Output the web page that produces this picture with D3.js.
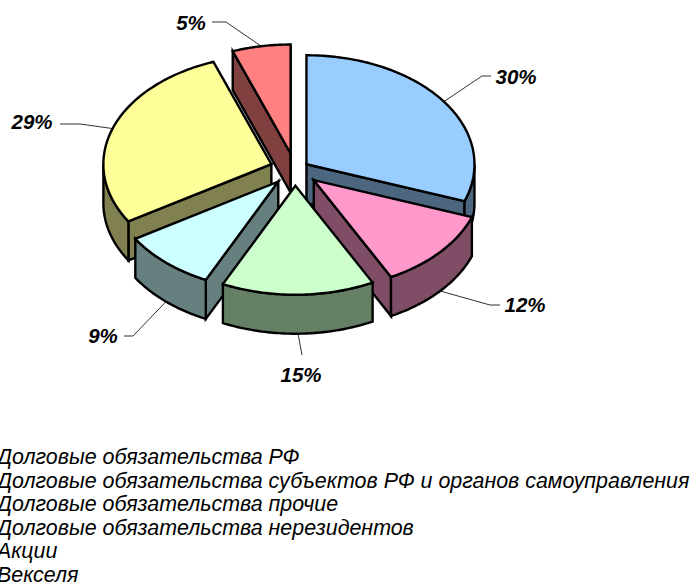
<!DOCTYPE html>
<html>
<head>
<meta charset="utf-8">
<script src="https://cdn.jsdelivr.net/npm/d3@7"></script>
<style>
  html, body { margin: 0; padding: 0; background: #fff; overflow: hidden; }
  text { font-family: "Liberation Sans", Arial, sans-serif; font-style: italic; fill: #000; }
</style>
</head>
<body>
<svg id="chart" width="690" height="583"></svg>
<script>
const categories = [
  "Долговые обязательства РФ",
  "Долговые обязательства субъектов РФ и органов самоуправления",
  "Долговые обязательства прочие",
  "Долговые обязательства нерезидентов",
  "Акции",
  "Векселя"
];
const shares = [30.5, 11.9, 14.7, 9.1, 28.2, 5.6];
const shareLabels = ["30%", "12%", "15%", "9%", "29%", "5%"];
const topColors = ["#99ccff", "#ff99cc", "#ccffcc", "#ccffff", "#ffff99", "#ff8080"];
const sideColors = ["#4d6680", "#804d66", "#668066", "#668080", "#808050", "#804040"];
// back to front
const drawOrder = [0, 5, 4, 3, 1, 2];

const cx = 295, cy = 169.5, rx = 168, ry = 109, depth = 39;
const explode = i => i === 0 ? 14 : 25;

// label layout: text anchor point and the elbow of its leader
const labelLayout = [
  {x: 516, y: 84, elbow: [[482, 76], [491, 76]]},
  {x: 525, y: 312, elbow: [[490, 305], [500, 305]]},
  {x: 301, y: 382, elbow: [[302, 355]]},
  {x: 103, y: 343, elbow: [[133, 336], [124, 336]]},
  {x: 32, y: 129, elbow: [[80, 124], [60, 124]]},
  {x: 191, y: 30, elbow: [[226, 22], [212, 22]]}
];

const svg = d3.select("#chart");

const slices = d3.pie().sort(null).startAngle(0).endAngle(2 * Math.PI)(shares);

const apex = (d, i) => {
  const mid = (d.startAngle + d.endAngle) / 2;
  return [
    cx + explode(i) * Math.sin(mid),
    cy - explode(i) * (ry / rx) * Math.cos(mid)
  ];
};

const rimPoint = (c, a, dy = 0) => [
  c[0] + rx * Math.sin(a),
  c[1] - ry * Math.cos(a) + dy
];

const rimArc = (c, a0, a1, dy = 0) => {
  const n = Math.max(2, Math.ceil((a1 - a0) * 60));
  return d3.range(n + 1).map(k => rimPoint(c, a0 + (a1 - a0) * k / n, dy));
};

const line = d3.line();

// leader lines go under the pie
svg.append("g").selectAll("path")
  .data(slices)
  .enter().append("path")
  .attr("fill", "none")
  .attr("stroke", "#333")
  .attr("stroke-width", 1)
  .attr("d", (d, i) => {
    const mid = (d.startAngle + d.endAngle) / 2;
    const side = Math.cos(mid) < 0 ? depth : 0;
    return line([rimPoint(apex(d, i), mid, side), ...labelLayout[i].elbow]);
  });

const pieG = svg.append("g")
  .attr("stroke", "#000")
  .attr("stroke-width", 2.4)
  .attr("stroke-linejoin", "miter");

drawOrder.forEach(i => {
  const d = slices[i];
  const c = apex(d, i);
  const a0 = d.startAngle, a1 = d.endAngle;
  const g = pieG.append("g");

  const wall = a => {
    const p = rimPoint(c, a);
    g.append("path")
      .attr("fill", sideColors[i])
      .attr("d", line([c, p, [p[0], p[1] + depth], [c[0], c[1] + depth]]) + "Z");
  };
  if (Math.sin(a0) < 0) wall(a0);
  if (Math.sin(a1) > 0) wall(a1);

  // outer rim, only the part facing the viewer
  const from = Math.max(a0, Math.PI / 2), to = Math.min(a1, 3 * Math.PI / 2);
  if (from < to) {
    const upper = rimArc(c, from, to);
    const lower = rimArc(c, from, to, depth).reverse();
    g.append("path")
      .attr("fill", sideColors[i])
      .attr("d", line(upper.concat(lower)) + "Z");
  }

  g.append("path")
    .attr("fill", topColors[i])
    .attr("d", line([c].concat(rimArc(c, a0, a1))) + "Z");
});

svg.append("g").selectAll("text")
  .data(shareLabels)
  .enter().append("text")
  .attr("x", (d, i) => labelLayout[i].x)
  .attr("y", (d, i) => labelLayout[i].y)
  .attr("text-anchor", "middle")
  .attr("font-weight", "bold")
  .attr("font-size", 20.5)
  .text(d => d);

// legend, its keys are cut off by the left edge of the picture
const legendY = d3.scalePoint()
  .domain(categories)
  .range([464, 582]);

svg.append("g").selectAll("text")
  .data(categories)
  .enter().append("text")
  .attr("x", -3)
  .attr("y", d => legendY(d))
  .attr("font-size", 21.4)
  .text(d => d);
</script>
</body>
</html>
